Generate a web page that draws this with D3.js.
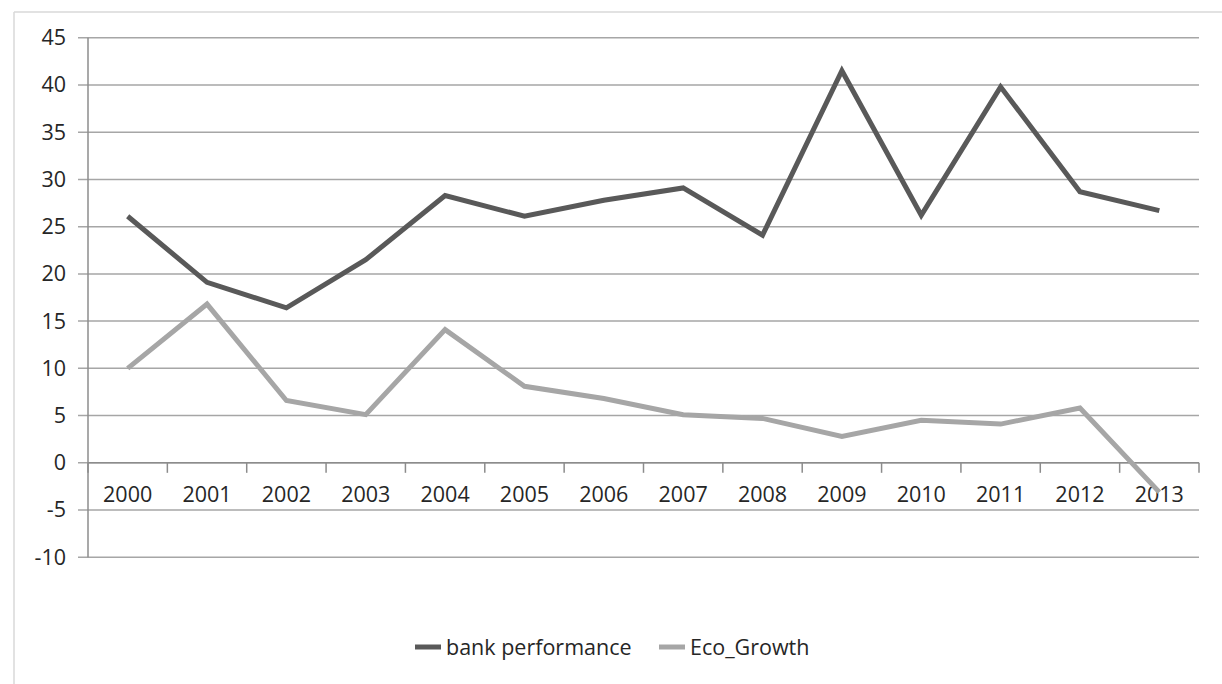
<!DOCTYPE html>
<html>
<head>
<meta charset="utf-8">
<script src="https://cdn.jsdelivr.net/npm/d3@7/dist/d3.min.js"></script>
<style>
  html, body { margin: 0; padding: 0; background: #fff; }
  svg { display: block; }
  text { font-family: "Open Sans", "DejaVu Sans", sans-serif; fill: #262626; }
</style>
</head>
<body>
<svg id="chart" width="1222" height="684"></svg>
<script>
// Categories and series
const years = ["2000","2001","2002","2003","2004","2005","2006","2007","2008","2009","2010","2011","2012","2013"];
const bankPerformance = [26.1, 19.1, 16.4, 21.5, 28.3, 26.1, 27.8, 29.1, 24.1, 41.5, 26.2, 39.8, 28.7, 26.7];
const ecoGrowth = [10.0, 16.8, 6.6, 5.1, 14.1, 8.1, 6.8, 5.1, 4.7, 2.8, 4.5, 4.1, 5.8, -3.1];
const yTicks = [-10, -5, 0, 5, 10, 15, 20, 25, 30, 35, 40, 45];
const seriesNames = ["bank performance", "Eco_Growth"];
const seriesColors = ["#595959", "#a6a6a6"];

const svg = d3.select("#chart");
const W = 1222, H = 684;
const plot = { left: 88, right: 1199, top: 37.7, bottom: 557.3 };
const fontSize = 21.5;

// Outer chart frame (left and top edges visible)
svg.append("line").attr("x1", 14).attr("x2", 14).attr("y1", 12).attr("y2", H)
  .attr("stroke", "#d9d9d9").attr("stroke-width", 1.5);
svg.append("line").attr("x1", 14).attr("x2", W).attr("y1", 12).attr("y2", 12)
  .attr("stroke", "#d9d9d9").attr("stroke-width", 1.5);

const x = d3.scaleBand().domain(years).range([plot.left, plot.right]).padding(0);
const y = d3.scaleLinear().domain([-10, 45]).range([plot.bottom, plot.top]);
const xc = d => x(d) + x.bandwidth() / 2;

// Value labels on the left
const yAxis = svg.append("g")
  .attr("transform", `translate(${plot.left},0)`)
  .call(d3.axisLeft(y).tickValues(yTicks).tickSize(0).tickPadding(22).tickFormat(d => String(d)));
yAxis.select(".domain").remove();
yAxis.selectAll("text").attr("font-size", fontSize).style("fill", "#262626");

// Horizontal gridlines with short stubs left of the axis
svg.append("g").selectAll("line").data(yTicks).join("line")
  .attr("x1", plot.left - 10).attr("x2", plot.right)
  .attr("y1", d => y(d)).attr("y2", d => y(d))
  .attr("stroke", "#a6a6a6").attr("stroke-width", 1.5);

// Vertical axis line
svg.append("line").attr("x1", plot.left).attr("x2", plot.left)
  .attr("y1", plot.top).attr("y2", plot.bottom)
  .attr("stroke", "#8c8c8c").attr("stroke-width", 1.5);

// Category axis along the zero line, ticks between categories
const y0 = y(0);
const boundaries = years.map(d => x(d)).concat([plot.right]);
svg.append("g").selectAll("line").data(boundaries).join("line")
  .attr("x1", d => d).attr("x2", d => d)
  .attr("y1", y0).attr("y2", y0 + 10)
  .attr("stroke", "#8c8c8c").attr("stroke-width", 1.5);
svg.append("line").attr("x1", plot.left).attr("x2", plot.right)
  .attr("y1", y0).attr("y2", y0)
  .attr("stroke", "#8c8c8c").attr("stroke-width", 1.5);
svg.append("g").selectAll("text").data(years).join("text")
  .attr("x", d => xc(d)).attr("y", y0 + 39)
  .attr("text-anchor", "middle").attr("font-size", fontSize)
  .text(d => d);

// Series lines
const line = d3.line().x((d, i) => xc(years[i])).y(d => y(d));
[bankPerformance, ecoGrowth].forEach((vals, k) => {
  svg.append("path").datum(vals)
    .attr("d", line)
    .attr("fill", "none")
    .attr("stroke", seriesColors[k])
    .attr("stroke-width", 5)
    .attr("stroke-linejoin", "miter")
    .attr("stroke-linecap", "butt");
});

// Legend
const legendY = 647;
const legendItems = [{ x: 415 }, { x: 659 }];
legendItems.forEach((it, k) => {
  svg.append("line").attr("x1", it.x).attr("x2", it.x + 26)
    .attr("y1", legendY).attr("y2", legendY)
    .attr("stroke", seriesColors[k]).attr("stroke-width", 5);
  svg.append("text").attr("x", it.x + 31).attr("y", legendY + 7.5)
    .attr("font-size", fontSize).text(seriesNames[k]);
});
</script>
</body>
</html>
